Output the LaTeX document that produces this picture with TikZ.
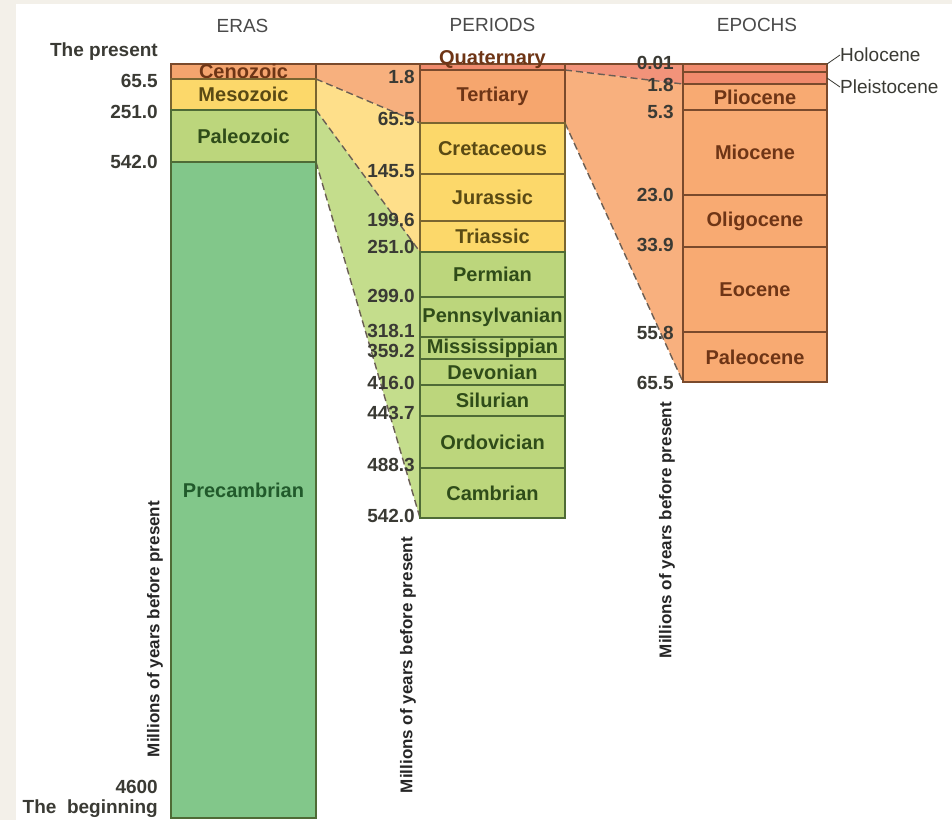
\documentclass[tikz,border=0pt]{standalone}
\usepackage{fontspec}
\setmainfont{Liberation Sans}
\usetikzlibrary{positioning}

\definecolor{ceno}{HTML}{F4A46E}
\definecolor{meso}{HTML}{FCD86A}
\definecolor{paleo}{HTML}{BCD67C}
\definecolor{precam}{HTML}{82C78A}
\definecolor{quat}{HTML}{EF8A6C}
\definecolor{tert}{HTML}{F6A66E}
\definecolor{epo}{HTML}{F8AA72}
\definecolor{holo}{HTML}{F08A6C}
\definecolor{fceno}{HTML}{F7B07E}
\definecolor{fmeso}{HTML}{FEDF8A}
\definecolor{fpaleo}{HTML}{C4DD8C}
\definecolor{fquat}{HTML}{F2937A}
\definecolor{ftert}{HTML}{F8B07E}
\definecolor{brownt}{HTML}{6E3516}
\definecolor{olivet}{HTML}{5A4A14}
\definecolor{greent}{HTML}{2F4C19}
\definecolor{dgreent}{HTML}{215A2B}
\definecolor{numgray}{HTML}{3A3A34}
\definecolor{headgray}{HTML}{4A4A4A}
\definecolor{edgebr}{HTML}{7A4A2C}
\definecolor{edgeyl}{HTML}{7A6530}
\definecolor{edgegr}{HTML}{4F6B36}
\definecolor{dashc}{HTML}{6A5E54}
\definecolor{beige}{HTML}{F3F0E9}

\begin{document}
\begin{tikzpicture}[
    x=1pt, y=-1pt,
    gbox/.style={rectangle, line width=1.3pt, minimum width=145pt, inner sep=0pt, outer sep=0pt},
    name_style/.style={font=\fontsize{20}{22}\selectfont\bfseries, inner sep=0pt},
    num_style/.style={font=\fontsize{19}{21}\selectfont\bfseries, text=numgray, anchor=east, inner sep=0pt},
    head_style/.style={font=\fontsize{19}{21}\selectfont, text=headgray},
    axis_style/.style={font=\fontsize{17}{19}\selectfont\bfseries, text=black!85, rotate=90, inner sep=0pt},
    funnel_edge/.style={dash pattern=on 7pt off 4pt, draw=dashc, line width=1.4pt}
]

% x positions of the three columns (centres)
\def\xera{243.5}
\def\xper{492.5}
\def\xepo{755}

\pgfdeclarelayer{backdrop}
\pgfdeclarelayer{background}
\pgfsetlayers{backdrop,background,main}

\useasboundingbox (0,0) rectangle (952,820);
\begin{pgfonlayer}{backdrop}
    \fill[beige] (0,0) rectangle (952,820);
    \fill[white] (16,4) rectangle (952,820);
\end{pgfonlayer}

% ==========================
% TITLES
% ==========================
\node[head_style] (t-eras) at (\xera-1, 26) {ERAS};
\node[head_style] (t-per) at (\xper, 25) {PERIODS};
\node[head_style] (t-epo) at (\xepo+2, 25) {EPOCHS};

% ==========================
% ERAS
% ==========================
\foreach \n/\t/\b/\lab/\fc/\ec/\tc in {
    eCeno/64/79/Cenozoic/ceno/edgebr/brownt,
    eMeso/79/110/Mesozoic/meso/edgeyl/olivet,
    ePaleo/110/162/Paleozoic/paleo/edgegr/greent,
    ePre/162/818/Precambrian/precam/edgegr/dgreent} {
    \pgfmathsetmacro{\h}{\b-\t}
    \pgfmathsetmacro{\m}{(\t+\b)/2}
    \node[gbox, fill=\fc, draw=\ec, minimum height=\h pt] (\n) at (\xera, \m) {};
    \node[name_style, text=\tc] (\n-l) at (\n.center) {\lab};
}

\foreach \v/\y [count=\i] in {The present/52, 65.5/81, 251.0/112, 542.0/162, 4600/787, The\ \ beginning/809} {
    \node[num_style] (eN-\i) at (158, \y) {\v};
}

% ==========================
% PERIODS
% ==========================
\node[gbox, fill=quat, draw=edgebr, minimum height=6pt] (pQuat) at (\xper, 67) {};
\node[name_style, text=brownt] (pQuat-l) at ([yshift=7pt]pQuat.center) {Quaternary};

\foreach \n/\t/\b/\lab/\fc/\ec/\tc in {
    pTert/70/123/Tertiary/tert/edgebr/brownt,
    pCret/123/174/Cretaceous/meso/edgeyl/olivet,
    pJura/174/221/Jurassic/meso/edgeyl/olivet,
    pTria/221/252/Triassic/meso/edgeyl/olivet,
    pPerm/252/297/Permian/paleo/edgegr/greent,
    pPenn/297/337/Pennsylvanian/paleo/edgegr/greent,
    pMiss/337/359/Mississippian/paleo/edgegr/greent,
    pDevo/359/385/Devonian/paleo/edgegr/greent,
    pSilu/385/416/Silurian/paleo/edgegr/greent,
    pOrdo/416/468/Ordovician/paleo/edgegr/greent,
    pCamb/468/518/Cambrian/paleo/edgegr/greent} {
    \pgfmathsetmacro{\h}{\b-\t}
    \pgfmathsetmacro{\m}{(\t+\b)/2}
    \node[gbox, fill=\fc, draw=\ec, minimum height=\h pt] (\n) at (\xper, \m) {};
    \node[name_style, text=\tc] (\n-l) at (\n.center) {\lab};
}

\foreach \v/\y [count=\i] in {1.8/77, 65.5/119, 145.5/171, 199.6/220, 251.0/247, 299.0/296,
    318.1/331, 359.2/351, 416.0/383, 443.7/413, 488.3/465, 542.0/516} {
    \node[num_style] (pN-\i) at (415, \y) {\v};
}

% ==========================
% EPOCHS
% ==========================
\node[gbox, fill=holo, draw=edgebr, minimum width=144pt, minimum height=8pt] (eHolo) at (\xepo, 68) {};
\node[gbox, fill=holo, draw=edgebr, minimum width=144pt, minimum height=12pt] (ePleist) at (\xepo, 78) {};

\foreach \n/\t/\b/\lab in {
    ePlio/84/110/Pliocene, eMio/110/195/Miocene, eOligo/195/247/Oligocene,
    eEo/247/332/Eocene, ePaleoc/332/382/Paleocene} {
    \pgfmathsetmacro{\h}{\b-\t}
    \pgfmathsetmacro{\m}{(\t+\b)/2}
    \node[gbox, fill=epo, draw=edgebr, minimum width=144pt, minimum height=\h pt] (\n) at (\xepo, \m) {};
    \node[name_style, text=brownt] (\n-l) at (\n.center) {\lab};
}

\foreach \v/\y [count=\i] in {0.01/63, 1.8/85, 5.3/112, 23.0/195, 33.9/245, 55.8/333, 65.5/383} {
    \node[num_style] (xN-\i) at (674, \y) {\v};
}

\node[name_style, font=\fontsize{19}{21}\selectfont, text=numgray, anchor=west] (eHolo-l) at (840, 55) {Holocene};
\node[name_style, font=\fontsize{19}{21}\selectfont, text=numgray, anchor=west] (ePleist-l) at (840, 87) {Pleistocene};
\draw[numgray, line width=0.8pt] (eHolo-l.west) -- (eHolo.north east);
\draw[numgray, line width=0.8pt] (ePleist-l.west) -- (ePleist.east);

% axis captions
\node[axis_style] (ax-eras) at (155, 629) {Millions of years before present};
\node[axis_style] (ax-per) at (408, 665) {Millions of years before present};
\node[axis_style] (ax-epo) at (667, 530) {Millions of years before present};

% ==========================
% FUNNELS
% ==========================
\begin{pgfonlayer}{background}
    \fill[fceno] (eCeno.north east) -- (eCeno.south east) -- (pTert.south west) -- (pQuat.north west) -- cycle;
    \fill[fmeso] (eMeso.north east) -- (eMeso.south east) -- (pTria.south west) -- (pCret.north west) -- cycle;
    \fill[fpaleo] (ePaleo.north east) -- (ePaleo.south east) -- (pCamb.south west) -- (pPerm.north west) -- cycle;
    \fill[ftert] (pTert.north east) -- (pTert.south east) -- (ePaleoc.south west) -- (ePlio.north west) -- cycle;
    \fill[fquat] (pQuat.north east) -- (pQuat.south east) -- (ePleist.south west) -- (eHolo.north west) -- cycle;

    \draw[edgebr, line width=1.3pt] (eCeno.north east) -- (pQuat.north west);
    \draw[edgebr, line width=1.3pt] (pQuat.north east) -- (eHolo.north west);
    \draw[funnel_edge] (eCeno.south east) -- (pTert.south west);
    \draw[funnel_edge] (eMeso.south east) -- (pTria.south west);
    \draw[funnel_edge] (ePaleo.south east) -- (pCamb.south west);
    \draw[funnel_edge] (pQuat.south east) -- (ePleist.south west);
    \draw[funnel_edge] (pTert.south east) -- (ePaleoc.south west);
\end{pgfonlayer}

\end{tikzpicture}
\end{document}
